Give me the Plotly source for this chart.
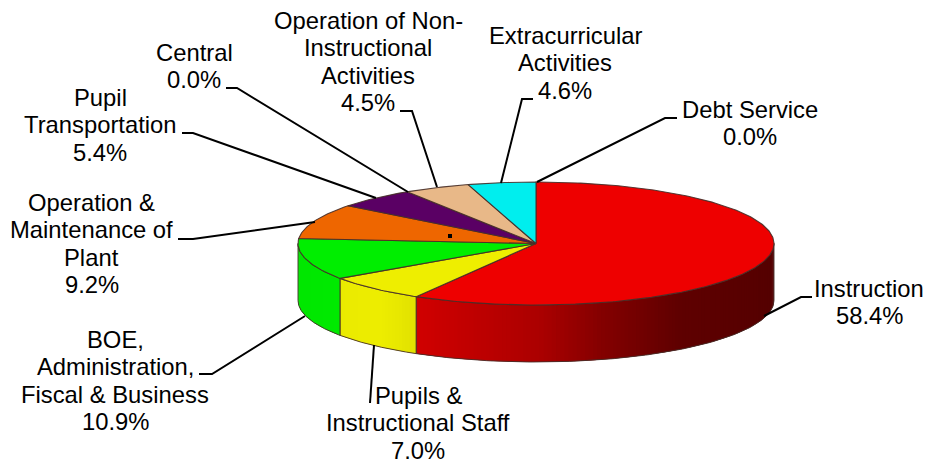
import numpy as np
import plotly.graph_objects as go

# ---- data ----
categories = ["Instruction", "Pupils & Instructional Staff", "BOE, Administration, Fiscal & Business",
              "Operation & Maintenance of Plant", "Pupil Transportation", "Central",
              "Operation of Non-Instructional Activities", "Extracurricular Activities", "Debt Service"]
values = [58.4, 7.0, 10.9, 9.2, 5.4, 0.0, 4.5, 4.6, 0.0]
label_lines = [["Instruction"], ["Pupils &", "Instructional Staff"],
               ["BOE,", "Administration,", "Fiscal & Business"],
               ["Operation &", "Maintenance of", "Plant"], ["Pupil", "Transportation"], ["Central"],
               ["Operation of Non-", "Instructional", "Activities"], ["Extracurricular", "Activities"],
               ["Debt Service"]]
colors = [(238, 0, 0), (238, 238, 0), (0, 238, 0), (238, 102, 0), (90, 0, 100),
          (0, 0, 0), (232, 184, 136), (0, 238, 238), (0, 0, 0)]

# ---- layout of the picture ----
CX, CY, RX, RY, DEPTH = 536, 243.5, 238, 61.5, 57
LINE_H = 27.4
label_pos = [(869, 288.3), (418, 395.3), (115, 339.3), (91.5, 202.3), (100, 97.3), (194, 52.3),
             (368, 20.5), (565, 35.3), (749.5, 109.3)]
leaders = [[(812, 297), (801, 297), (764, 316)],
           [(370, 403), (374, 345)],
           [(199, 374), (212, 374), (305, 316)],
           [(178, 239), (193, 239), (315, 222)],
           [(182, 133), (193, 133), (376, 198)],
           [(226, 88), (237, 88), (408, 192)],
           [(400, 111), (412, 111), (437, 187)],
           [(533, 99), (522, 99), (501, 183)],
           [(677, 118), (665, 118), (537, 182)]]
EDGE = "rgba(70,45,40,0.9)"


def pt(a, dy=0.0):
    """angle in degrees clockwise from 12 o'clock -> picture coordinates"""
    r = np.radians(a)
    return CX + RX * np.sin(r), CY - RY * np.cos(r) + dy


def shade(i, a):
    """side-wall brightness for slice i at angle a"""
    x = pt(a)[0]
    if i == 0:
        return float(np.interp(x, [415, 540, 600, 680, 770], [0.88, 0.72, 0.56, 0.40, 0.36]))
    return float(np.interp(x, [298, 380, 415], [0.97, 1.0, 0.95]))


fig = go.Figure()
cum = np.concatenate([[0], np.cumsum(values)])
ang = cum / cum[-1] * 360


def wall(a0, a1, n=16):
    t = np.linspace(a0, a1, n)
    up = [pt(q) for q in t]
    lo = [pt(q, DEPTH) for q in t[::-1]]
    pts = up + lo + [up[0]]
    return [p[0] for p in pts], [p[1] for p in pts]


# side walls: only the front half (90..270 degrees) is visible
for i, v in enumerate(values):
    a0, a1 = max(ang[i], 90), min(ang[i + 1], 270)
    if a1 <= a0:
        continue
    steps = np.linspace(a0, a1, max(2, int((a1 - a0) / 1.0) + 1))
    d = steps[1] - steps[0]
    # strips overlap the next one, which is painted on top, so no seams show
    for s0 in steps[:-1]:
        f = shade(i, s0 + d / 2)
        c = "rgb(%d,%d,%d)" % tuple(int(k * f) for k in colors[i])
        xs, ys = wall(s0, min(s0 + 2 * d, a1), 5)
        fig.add_trace(go.Scatter(x=xs, y=ys, mode="lines", fill="toself", fillcolor=c,
                                 line=dict(width=0), hoverinfo="skip", showlegend=False))
    xs, ys = wall(a0, a1, 120)
    fig.add_trace(go.Scatter(x=xs, y=ys, mode="lines", line=dict(color=EDGE, width=1),
                             hoverinfo="skip", showlegend=False))

# top faces
for i, v in enumerate(values):
    if v <= 0:
        continue
    t = np.linspace(ang[i], ang[i + 1], max(3, int(v * 5)))
    pts = [(CX, CY)] + [pt(q) for q in t] + [(CX, CY)]
    c = "rgb(%d,%d,%d)" % colors[i]
    fig.add_trace(go.Scatter(x=[p[0] for p in pts], y=[p[1] for p in pts], mode="lines",
                             fill="toself", fillcolor=c, line=dict(color=EDGE, width=1.1),
                             hoverinfo="skip", showlegend=False))

# leader lines
for seg in leaders:
    fig.add_trace(go.Scatter(x=[p[0] for p in seg], y=[p[1] for p in seg], mode="lines",
                             line=dict(color="black", width=2), hoverinfo="skip", showlegend=False))

# the stray dot on the orange slice
fig.add_trace(go.Scatter(x=[450], y=[236], mode="markers",
                         marker=dict(symbol="square", size=4, color="black"),
                         hoverinfo="skip", showlegend=False))

# labels: one annotation per line so the line pitch can match
for lines, v, (x, y) in zip(label_lines, values, label_pos):
    for k, txt in enumerate(lines + ["%.1f%%" % v]):
        fig.add_annotation(x=x, y=y + k * LINE_H, text=txt, showarrow=False, xanchor="center",
                           yanchor="middle", font=dict(family="Liberation Sans, Arial", size=23.8, color="black"))

fig.update_layout(width=925, height=462, margin=dict(l=0, r=0, t=0, b=0),
                  paper_bgcolor="white", plot_bgcolor="white", hovermode=False, showlegend=False,
                  xaxis=dict(range=[0, 925], visible=False, fixedrange=True),
                  yaxis=dict(range=[462, 0], visible=False, fixedrange=True))
fig.write_html("out.html", config=dict(displayModeBar=False),
               post_script="document.body.style.margin='0';document.body.style.overflow='hidden';")
